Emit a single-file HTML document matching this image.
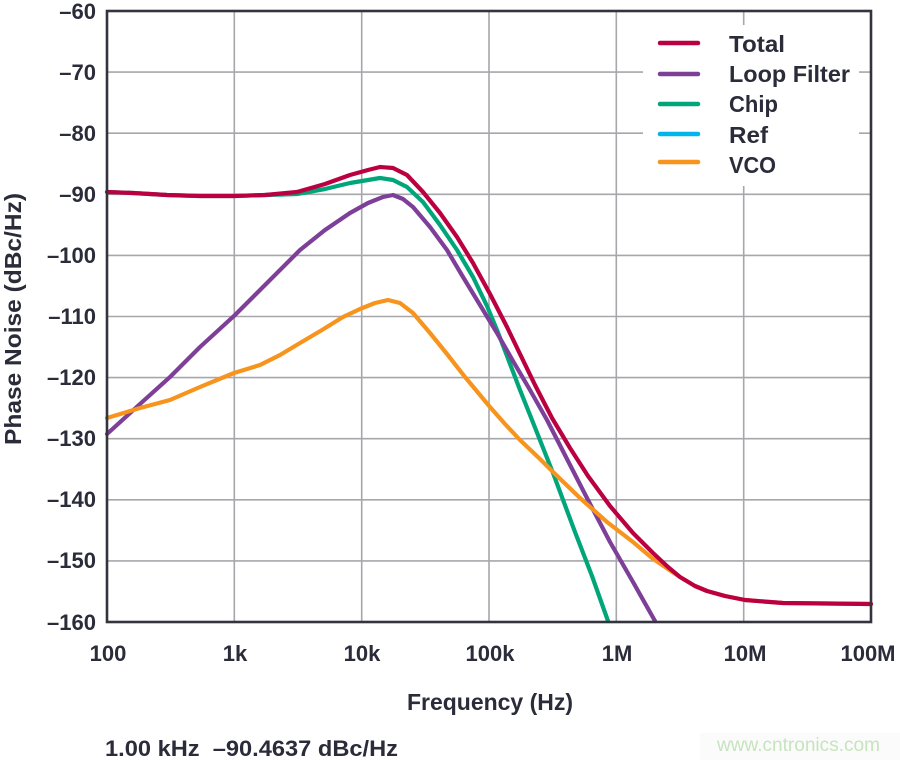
<!DOCTYPE html>
<html><head><meta charset="utf-8"><style>
html,body{margin:0;padding:0;background:#fff;}
svg{display:block;}
text{font-family:"Liberation Sans",sans-serif;font-weight:bold;fill:#2b2c3a;}
</style></head><body>
<svg width="900" height="760" viewBox="0 0 900 760" xmlns="http://www.w3.org/2000/svg">
<rect width="900" height="760" fill="#fff"/>
<!-- grid -->
<g stroke="#a7a7ab" stroke-width="1.6" fill="none">
<line x1="107" y1="72.1" x2="871" y2="72.1"/>
<line x1="107" y1="133.2" x2="871" y2="133.2"/>
<line x1="107" y1="194.3" x2="871" y2="194.3"/>
<line x1="107" y1="255.4" x2="871" y2="255.4"/>
<line x1="107" y1="316.5" x2="871" y2="316.5"/>
<line x1="107" y1="377.6" x2="871" y2="377.6"/>
<line x1="107" y1="438.7" x2="871" y2="438.7"/>
<line x1="107" y1="499.8" x2="871" y2="499.8"/>
<line x1="107" y1="560.9" x2="871" y2="560.9"/>
<line x1="234.3" y1="11" x2="234.3" y2="622"/>
<line x1="361.7" y1="11" x2="361.7" y2="622"/>
<line x1="489" y1="11" x2="489" y2="622"/>
<line x1="616.3" y1="11" x2="616.3" y2="622"/>
<line x1="743.7" y1="11" x2="743.7" y2="622"/>
</g>
<!-- legend background -->
<rect x="643" y="25" width="216" height="161" fill="#fff"/>
<!-- curves -->
<g fill="none" stroke-width="4.2" stroke-linejoin="round" stroke-linecap="round">
<polyline stroke="#00a67a" points="107,192 133,193 167,195 200,196 234,196 265,195 297,194 325,189 350,183 368,180 380,178 393,180 407,187 423,202 440,225 457,250 473,277 487,306 497,330 507,356 520,390 532,420 553,473 575,532 592,576 608,621"/>
<polyline stroke="#7d3f98" points="107,434 140,404 170,377 200,347 235,315 268,282 300,250 325,230 350,213 368,203 383,197 393,195 403,199 413,207 430,227 447,250 463,277 480,305 497,333 513,361 530,390 547,420 567,459 588,500 610,542 633,582 655,621"/>
<polyline stroke="#f7941d" points="107,418 140,408 170,400 200,387 234,373 260,365 280,355 300,343 322,330 343,317 360,309 375,303 388,300 400,303 413,313 430,333 447,354 465,377 490,407 505,424 520,440 540,459 553,472 580,498 607,522 633,542 652,558 668,569 680,577 695,586 707,591 725,596 745,600 783,603 871,604"/>
<polyline stroke="#bb0042" points="107,192 133,193 167,195 200,196 234,196 265,195 297,192 325,184 350,175 368,170 380,167 393,168 407,175 423,192 440,213 457,237 473,263 490,294 507,327 520,354 535,385 552,418 570,448 588,476 610,506 633,533 653,553 668,567 680,577 695,586 707,591 725,596 745,600 783,603 871,604"/>
</g>
<!-- frame -->
<rect x="107" y="11" width="764" height="611" fill="none" stroke="#34343f" stroke-width="2.6"/>
<!-- legend -->
<g stroke-width="4.5" stroke-linecap="round">
<line x1="660" y1="43" x2="698" y2="43" stroke="#bb0042"/>
<line x1="660" y1="74" x2="698" y2="74" stroke="#7d3f98"/>
<line x1="660" y1="104" x2="698" y2="104" stroke="#00a67a"/>
<line x1="660" y1="134" x2="698" y2="134" stroke="#00b5eb"/>
<line x1="660" y1="162" x2="698" y2="162" stroke="#f7941d"/>
</g>
<g font-size="23">
<text x="729" y="52" textLength="56" lengthAdjust="spacingAndGlyphs">Total</text>
<text x="729" y="82" textLength="121" lengthAdjust="spacingAndGlyphs">Loop Filter</text>
<text x="729" y="112" textLength="49" lengthAdjust="spacingAndGlyphs">Chip</text>
<text x="729" y="143" textLength="39" lengthAdjust="spacingAndGlyphs">Ref</text>
<text x="729" y="173" textLength="47" lengthAdjust="spacingAndGlyphs">VCO</text>
</g>
<!-- y tick labels -->
<g font-size="22" text-anchor="end">
<text x="96" y="19">–60</text>
<text x="96" y="80">–70</text>
<text x="96" y="141">–80</text>
<text x="96" y="202">–90</text>
<text x="96" y="263">–100</text>
<text x="96" y="324">–110</text>
<text x="96" y="385">–120</text>
<text x="96" y="446">–130</text>
<text x="96" y="507">–140</text>
<text x="96" y="568">–150</text>
<text x="96" y="630">–160</text>
</g>
<!-- x tick labels -->
<g font-size="22" text-anchor="middle">
<text x="108" y="661">100</text>
<text x="235" y="661">1k</text>
<text x="362" y="661">10k</text>
<text x="490" y="661">100k</text>
<text x="617" y="661">1M</text>
<text x="745" y="661">10M</text>
<text x="868" y="661">100M</text>
</g>
<!-- axis titles -->
<text x="490" y="710" font-size="23" text-anchor="middle" textLength="166" lengthAdjust="spacingAndGlyphs">Frequency (Hz)</text>
<text transform="translate(21,319) rotate(-90)" font-size="23" text-anchor="middle" textLength="252" lengthAdjust="spacingAndGlyphs">Phase Noise (dBc/Hz)</text>
<!-- readout -->
<text x="105" y="756" font-size="22" textLength="293" lengthAdjust="spacingAndGlyphs" xml:space="preserve">1.00 kHz  –90.4637 dBc/Hz</text>
<!-- watermark -->
<rect x="700" y="733" width="200" height="27" fill="#fbfbfb"/>
<text x="717" y="751" font-size="19" textLength="163" lengthAdjust="spacingAndGlyphs" style="font-weight:normal;fill:#c6e4bd">www.cntronics.com</text>
</svg>
</body></html>
